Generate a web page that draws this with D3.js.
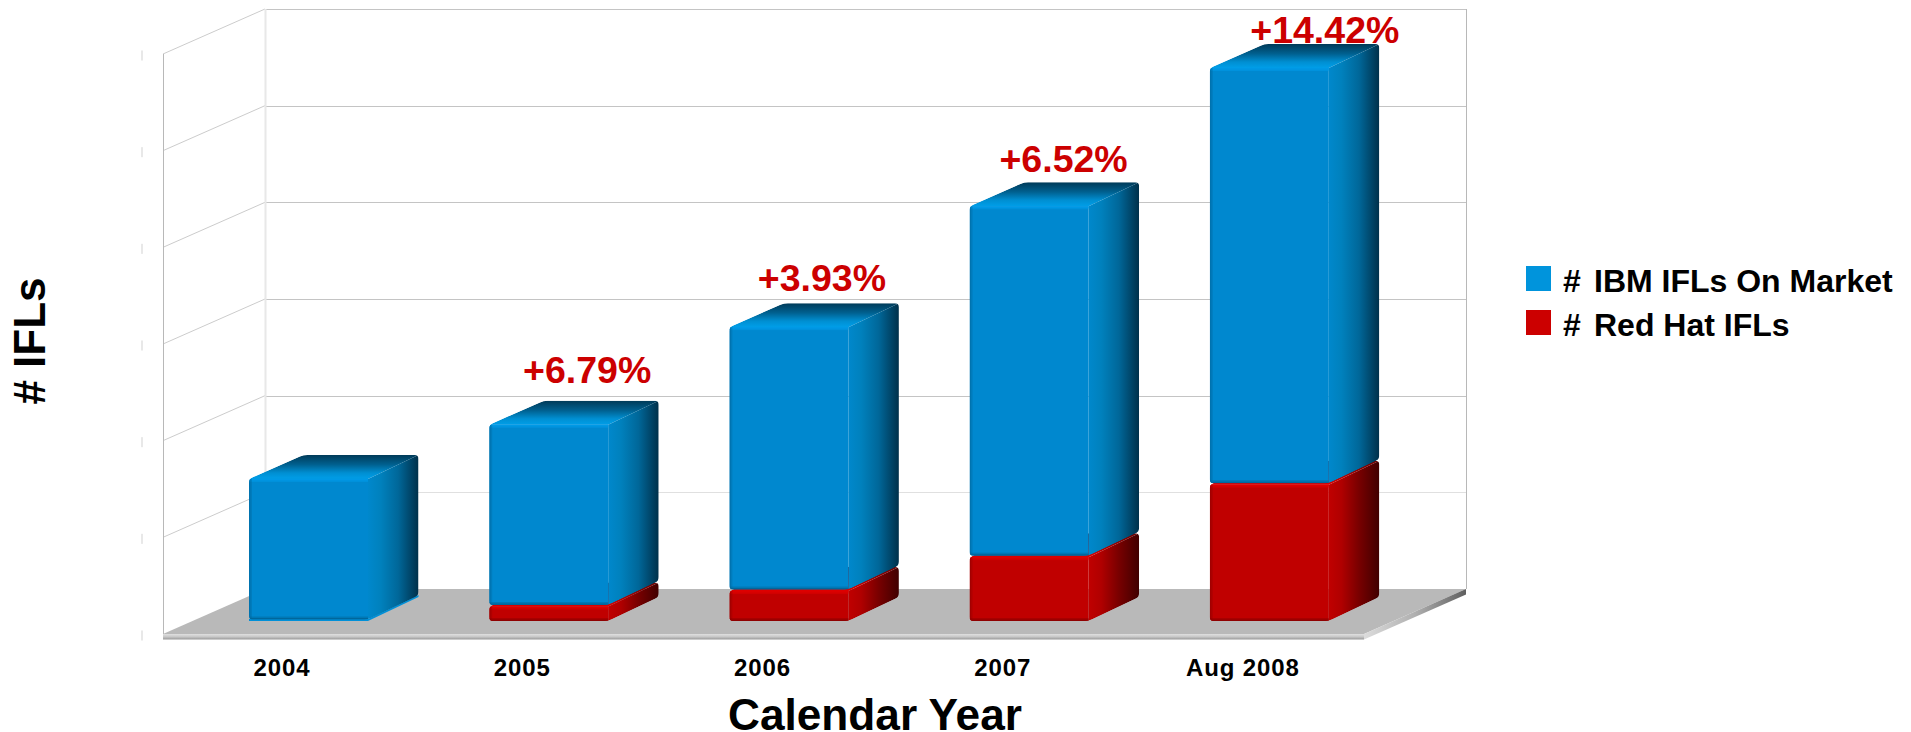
<!DOCTYPE html>
<html>
<head>
<meta charset="utf-8">
<title>IFLs</title>
<script src="https://cdn.jsdelivr.net/npm/d3@7"></script>
<style>
     body { margin: 0; background: #fff; }
     text { font-family: "Liberation Sans", Arial, sans-serif; font-weight: bold; }
</style>
</head>
<body>
<div id="plot"></div>
<script>
// Data (the value axis has no labels, so units are px-derived)
const years = ["2004", "2005", "2006", "2007", "Aug 2008"];
const ibmIfls = [147, 188, 273, 363, 431];
const redHatIfls = [0, 15, 31, 66, 141];
const growthLabels = [null, "+6.79%", "+3.93%", "+6.52%", "+14.42%"];
const valueTicks = [0, 100, 200, 300, 400, 500, 600];
const seriesNames = ["# IBM IFLs On Market", "# Red Hat IFLs"];

const width = 1911;
const height = 732;

// Box geometry of the 3D scene
const wall = {dx: 102, dy: 45};          // front floor edge -> back wall
const bar = {inset: 86, w: 119, dx: 50.5, dy: 24, lift: 13, skew: 4};
const colors = {
     blue: {
          front: "#0088cf", hi: "#0099e6", lo: "#00679c",
          side: ["#0088cc", "#0081bd", "#006799", "#00304a"],
          top: ["#009ee8", "#008fd2", "#00608f", "#003a58"]
     },
     red: {
          front: "#c00000", hi: "#dc0000", lo: "#8f0000",
          side: ["#c00000", "#b00000", "#780000", "#400000"],
          top: ["#e00000", "#c00000", "#900000", "#700000"]
     }
};
// hand placement of the growth labels, relative to the bar they sit on
const labelNudge = {
     "2005": {x: 98, y: -18}, "2006": {x: 92.5, y: -12.5},
     "2007": {x: 94, y: -10.5}, "Aug 2008": {x: 115, y: -1}
};

const svg = d3.select("#plot").append("svg")
     .attr("width", width)
     .attr("height", height);
const defs = svg.append("defs");

const x = d3.scaleBand().domain(years).range([163, 1364]);
const y = d3.scaleLinear().domain([0, 600]).range([634, 54]);
const barY = v => y(v) - bar.lift;

// Gradients
function addGradient(id, x1, y1, x2, y2, stops) {
     const g = defs.append("linearGradient").attr("id", id)
          .attr("x1", x1).attr("y1", y1).attr("x2", x2).attr("y2", y2);
     stops.forEach(s => g.append("stop").attr("offset", s[0]).attr("stop-color", s[1]));
}
const gradientStops = [0, 0.25, 0.6, 1];
Object.keys(colors).forEach(function(k) {
     const c = colors[k];
     addGradient(k + "Side", 0, 0, 1, 0, gradientStops.map((o, i) => [o, c.side[i]]));
     addGradient(k + "Top", 0, 1, 0, 0, gradientStops.map((o, i) => [o, c.top[i]]));
});
addGradient("lipFront", 0, 0, 0, 1, [[0, "#e0e0e0"], [0.5, "#c8c8c8"], [1, "#989898"]]);
addGradient("lipSide", 0, 0, 1, 0, [[0, "#dcdcdc"], [0.5, "#b0b0b0"], [1, "#5f5f5f"]]);

// Polygon with its corners rounded off
function roundedPoly(pts, r) {
     const p = d3.path();
     pts.forEach(function(pt, i) {
          const prev = pts[(i + pts.length - 1) % pts.length];
          const next = pts[(i + 1) % pts.length];
          const toward = function(a, b) {
               const len = Math.hypot(b[0] - a[0], b[1] - a[1]);
               const t = Math.min(r, len / 2) / len;
               return [a[0] + (b[0] - a[0]) * t, a[1] + (b[1] - a[1]) * t];
          };
          const a = toward(pt, prev);
          const b = toward(pt, next);
          if (i === 0) p.moveTo(a[0], a[1]); else p.lineTo(a[0], a[1]);
          p.quadraticCurveTo(pt[0], pt[1], b[0], b[1]);
     });
     p.closePath();
     return p.toString();
}
const poly = pts => pts.map(p => p.join(",")).join(" ");

// Walls
const walls = svg.append("g").attr("id", "walls");
const backX0 = x.range()[0] + wall.dx;
const backX1 = x.range()[1] + wall.dx;
const snap = v => Math.round(v) + 0.5;

walls.selectAll("line.back").data(valueTicks.slice(1)).enter().append("line")
     .attr("class", "back")
     .attr("x1", backX0).attr("x2", backX1)
     .attr("y1", d => snap(y(d) - wall.dy)).attr("y2", d => snap(y(d) - wall.dy))
     .attr("stroke", d => d === 100 ? "#e0e0e0" : "#c4c4c4");
walls.selectAll("line.side").data(valueTicks.slice(1)).enter().append("line")
     .attr("class", "side")
     .attr("x1", x.range()[0]).attr("x2", backX0)
     .attr("y1", d => y(d)).attr("y2", d => y(d) - wall.dy)
     .attr("stroke", "#cccccc");
walls.append("line").attr("x1", backX0 + 0.5).attr("x2", backX0 + 0.5)
     .attr("y1", y(600) - wall.dy).attr("y2", y(0) - wall.dy)
     .attr("stroke", "#e8e8e8").attr("stroke-width", 2);
walls.append("line").attr("x1", x.range()[0] + 0.5).attr("x2", x.range()[0] + 0.5)
     .attr("y1", y(600)).attr("y2", y(0))
     .attr("stroke", "#b8b8b8");
walls.append("line").attr("x1", backX1 + 0.5).attr("x2", backX1 + 0.5)
     .attr("y1", y(600) - wall.dy).attr("y2", y(0) - wall.dy)
     .attr("stroke", "#b8b8b8");

// Value axis: only faint ticks are left, the labels are blanked out
const yAxis = svg.append("g")
     .attr("transform", "translate(141,0)")
     .call(d3.axisLeft(y).tickValues(valueTicks).tickSize(0).tickFormat(""));
yAxis.select(".domain").remove();
yAxis.selectAll(".tick").append("rect")
     .attr("x", 0).attr("y", -4).attr("width", 2).attr("height", 10)
     .attr("fill", "#e8e8e8");

// Floor plate
const floor = svg.append("g").attr("id", "floor");
floor.append("polygon")
     .attr("points", poly([[x.range()[0], y(0)], [backX0, y(0) - wall.dy], [backX1, y(0) - wall.dy], [x.range()[1], y(0)]]))
     .attr("fill", "#b9b9b9");
floor.append("rect")
     .attr("x", x.range()[0]).attr("y", y(0))
     .attr("width", x.range()[1] - x.range()[0]).attr("height", 5.5)
     .attr("fill", "url(#lipFront)");
floor.append("polygon")
     .attr("points", poly([[x.range()[1], y(0)], [backX1, y(0) - wall.dy], [backX1, y(0) - wall.dy + 5.5], [x.range()[1], y(0) + 5.5]]))
     .attr("fill", "url(#lipSide)");

// Stacked bars
const table = years.map((yr, i) => ({year: yr, red: redHatIfls[i], blue: ibmIfls[i]}));
const stacked = d3.stack().keys(["red", "blue"])(table);

function drawSegment(g, id, key, x0, top, bottom) {
     const c = colors[key];
     const x1 = x0 + bar.w;
     const backLeft = [x0 + bar.dx + bar.skew, top - bar.dy];
     const outline = [[x0, bottom], [x0, top], backLeft,
          [x1 + bar.dx, top - bar.dy], [x1 + bar.dx, bottom - bar.dy], [x1, bottom]];
     defs.append("clipPath").attr("id", id).append("path")
          .attr("d", roundedPoly(outline, 4));
     const s = g.append("g").attr("clip-path", "url(#" + id + ")");
     s.append("polygon")
          .attr("points", poly([[x0, top], backLeft, [x1 + bar.dx, top - bar.dy], [x1, top]]))
          .attr("fill", "url(#" + key + "Top)");
     s.append("polygon")
          .attr("points", poly([[x1, top], [x1 + bar.dx, top - bar.dy], [x1 + bar.dx, bottom - bar.dy], [x1, bottom]]))
          .attr("fill", "url(#" + key + "Side)");
     s.append("rect").attr("x", x0).attr("y", top)
          .attr("width", bar.w).attr("height", bottom - top)
          .attr("fill", c.front);
     // soft edges of the front face
     s.append("rect").attr("x", x0).attr("y", top)
          .attr("width", bar.w).attr("height", 3).attr("fill", c.hi).attr("opacity", 0.6);
     s.append("rect").attr("x", x0).attr("y", top)
          .attr("width", bar.w).attr("height", 1.5).attr("fill", c.hi);
     s.append("rect").attr("x", x0).attr("y", bottom - 3)
          .attr("width", bar.w).attr("height", 3).attr("fill", c.lo).attr("opacity", 0.5);
     s.append("rect").attr("x", x0).attr("y", bottom - 1.5)
          .attr("width", bar.w).attr("height", 1.5).attr("fill", c.lo);
     s.append("rect").attr("x", x0).attr("y", top)
          .attr("width", 3).attr("height", bottom - top).attr("fill", c.lo).attr("opacity", 0.35);
     s.append("rect").attr("x", x0).attr("y", top)
          .attr("width", 1.5).attr("height", bottom - top).attr("fill", c.lo).attr("opacity", 0.4);
}

const bars = svg.append("g").attr("id", "bars");
years.forEach(function(yr, i) {
     const x0 = x(yr) + bar.inset;
     stacked.forEach(function(layer) {
          const d = layer[i];
          if (d[1] - d[0] <= 0) return;
          const base = barY(d[0]);
          if (layer.key === "blue" && d[0] === 0) {
               // bar standing on the floor keeps a thin bright sliver under it
               bars.append("polygon")
                    .attr("points", poly([[x0, base], [x0 + bar.w, base], [x0 + bar.w + bar.dx, base - bar.dy],
                         [x0 + bar.w + bar.dx, base - bar.dy - 2], [x0 + bar.w, base - 2], [x0, base - 2]]))
                    .attr("fill", "#0090d8");
               drawSegment(bars, "seg" + layer.key + i, layer.key, x0, barY(d[1]), base - 1.5);
          } else {
               drawSegment(bars, "seg" + layer.key + i, layer.key, x0, barY(d[1]), base - (d[0] > 0 ? 1.5 : 0));
          }
     });
});

// Growth labels
svg.append("g").attr("id", "growth").selectAll("text")
     .data(years.filter((yr, i) => growthLabels[i]))
     .enter().append("text")
     .attr("x", d => x(d) + bar.inset + labelNudge[d].x)
     .attr("y", function(d) {
          const i = years.indexOf(d);
          return barY(ibmIfls[i] + redHatIfls[i]) - bar.dy + labelNudge[d].y;
     })
     .attr("text-anchor", "middle")
     .attr("font-size", 37.5)
     .attr("fill", "#cc0000")
     .text(d => growthLabels[years.indexOf(d)]);

// Category axis
const xAxis = svg.append("g")
     .attr("transform", "translate(-1,660)")
     .call(d3.axisBottom(x).tickSize(0));
xAxis.select(".domain").remove();
xAxis.selectAll("text")
     .attr("y", 16)
     .attr("dy", 0)
     .attr("font-size", 24)
     .attr("letter-spacing", 0.9)
     .attr("fill", "#000");

// Axis titles
svg.append("text")
     .attr("x", 875).attr("y", 729.5)
     .attr("text-anchor", "middle")
     .attr("font-size", 44.2)
     .attr("fill", "#000")
     .text("Calendar Year");
svg.append("text")
     .attr("transform", "translate(45,341) rotate(-90)")
     .attr("text-anchor", "middle")
     .attr("font-size", 44)
     .attr("fill", "#000")
     .text("# IFLs");

// Legend
const legendColors = ["#0094dc", "#cc0000"];
const legendRow = d3.scaleOrdinal().domain(seriesNames).range([266, 310]);
const legend = svg.append("g").attr("id", "legend");
legend.selectAll("rect").data(seriesNames).enter().append("rect")
     .attr("x", 1526).attr("y", d => legendRow(d))
     .attr("width", 25).attr("height", 25)
     .attr("fill", (d, i) => legendColors[i]);
const legendText = legend.selectAll("text").data(seriesNames).enter().append("text")
     .attr("y", d => legendRow(d) + 26)
     .attr("font-size", 32)
     .attr("fill", "#000");
// the "#" stands apart from the name in the original
legendText.append("tspan").attr("x", 1563).text(d => d.slice(0, 1));
legendText.append("tspan").attr("x", 1594).text(d => d.slice(2));
</script>
</body>
</html>
